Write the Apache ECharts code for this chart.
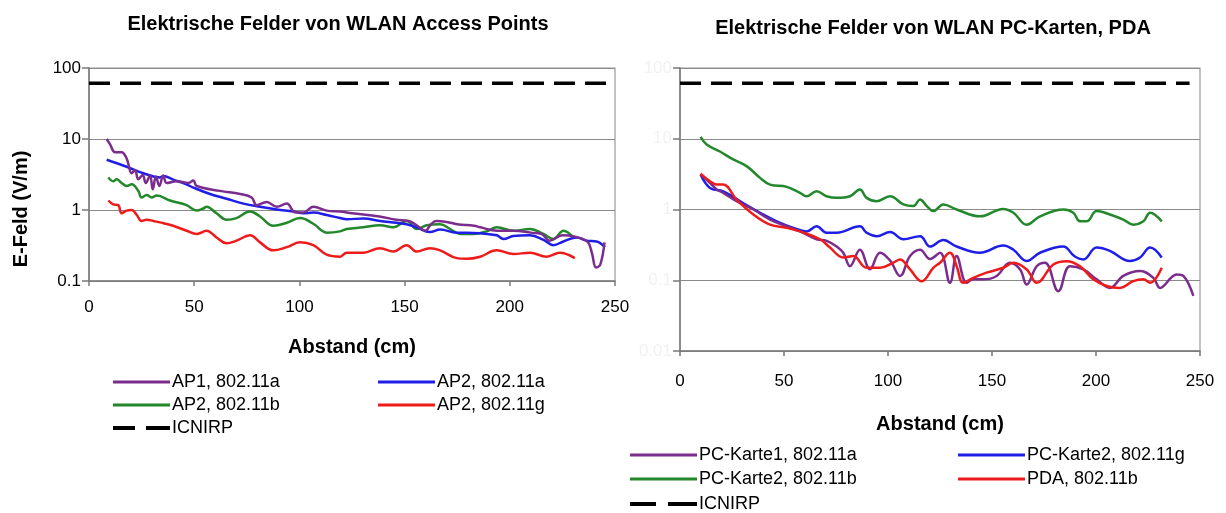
<!DOCTYPE html>
<html>
<head>
<meta charset="utf-8">
<script src="https://cdn.jsdelivr.net/npm/echarts@6/dist/echarts.min.js"></script>
<style>
html,body{margin:0;padding:0;background:#fff;}
#c{width:1226px;height:513px;}
</style>
</head>
<body>
<div id="c"></div>
<script>
// ---------- Data (E-Feld in V/m vs Abstand in cm) ----------
const xTicks = [0, 50, 100, 150, 200, 250];
const icnirpLimit = 61;

// Left chart: WLAN Access Points
const ap1aX = [8.4,10,12.4,15.5,17.9,20.3,21.9,23.4,25.5,27,29,30.3,31.8,33.4,35.3,36.9,41.7,47.2,49.6,51.2,62.3,71.8,77.3,79.7,84.5,89.2,94,97.9,101.9,106.6,113,119.3,125,138,146,152,156,160,162,165,170,175,183,186,194,202,210,215,219,225,231,237,239,241,243,245];
const ap1aY = [10,8.4,6.5,6.5,5.3,3.3,3.65,2.7,3.1,2.4,3.06,1.96,2.97,2.18,3.06,2.4,2.55,2.4,2.6,2.18,1.86,1.68,1.5,1.17,1.3,1.11,1.23,0.93,0.92,1.11,0.98,0.95,0.9,0.81,0.73,0.7,0.6,0.51,0.6,0.7,0.68,0.63,0.6,0.57,0.51,0.51,0.48,0.46,0.37,0.44,0.42,0.355,0.25,0.155,0.17,0.35];

const ap2aX = [8.4,17.9,25.8,33.7,35.3,40,46.3,49.6,57.5,65.4,73.4,81.3,89.2,97.1,101.9,106.6,113,119.3,122.5,130.4,138.3,146.2,151,155.8,162,166.9,174.8,179.5,185.9,193.8,197,201.7,209.6,216,220.7,225.5,231.8,236.5,241.3,245.2];
const ap2aY = [5.1,4.06,3.3,2.88,3.0,2.68,2.3,2.07,1.68,1.44,1.23,1.11,1.02,0.95,0.9,0.92,0.85,0.77,0.74,0.76,0.7,0.66,0.63,0.57,0.49,0.53,0.48,0.48,0.47,0.44,0.39,0.43,0.44,0.38,0.32,0.36,0.41,0.37,0.36,0.3];

const ap2bX = [9.2,11.5,13.1,15.5,17.9,20.3,23.4,25,27.4,29.8,32.2,38.5,46.4,51.2,54.3,55.9,60.6,65.4,70.1,76.5,81.3,87.6,94,100.3,106.6,113,119.3,122.5,130.4,138.3,144.6,151,155.8,160.5,166.9,171.6,176.4,182.7,189,193.8,201.7,209.6,216,220.7,225.5,230.2];
const ap2bY = [2.88,2.54,2.7,2.4,2.18,2.3,1.86,1.5,1.62,1.5,1.6,1.36,1.17,0.98,1.05,1.11,0.9,0.73,0.77,0.95,0.81,0.6,0.66,0.77,0.64,0.48,0.5,0.54,0.57,0.61,0.57,0.7,0.54,0.61,0.63,0.54,0.46,0.46,0.5,0.57,0.51,0.54,0.46,0.39,0.51,0.41];

const ap2gX = [9.2,11.5,13.9,15.5,17.9,20.3,22.6,25,27.4,30.6,33.7,40,46.4,51.2,55.9,60.6,65.4,70.1,76.5,81.3,87.6,94,100.3,106.6,113,119.3,122.5,130.4,138.3,144.6,151,155.8,162,166.9,174.8,179.5,185.9,193.8,201.7,209.6,217.5,223.8,230.9];
const ap2gY = [1.36,1.2,1.17,0.9,0.98,1.0,0.86,0.7,0.73,0.7,0.67,0.6,0.51,0.46,0.51,0.41,0.34,0.37,0.44,0.35,0.27,0.3,0.35,0.32,0.235,0.22,0.25,0.25,0.29,0.26,0.32,0.26,0.29,0.27,0.21,0.205,0.22,0.27,0.24,0.25,0.22,0.25,0.21];

// Right chart: WLAN PC-Karten, PDA
const pc1aX = [9.9,14.4,17.6,20.8,27.2,35.3,43.3,51.3,57.7,65.7,70.5,75.3,78.5,81.7,86.5,91.3,96.2,101,105.8,110.6,115.4,120.2,125,129.8,133,137.8,141,145.8,152.2,158.6,163.5,166.7,171.5,175.5,181.9,187.5,193.9,200.3,206.7,213.1,221.2,227.6,230.8,238.8,242,246.8];
const pc1aY = [3.12,2.38,1.92,1.72,1.31,1.0,0.72,0.58,0.49,0.38,0.36,0.3,0.245,0.158,0.27,0.143,0.245,0.19,0.115,0.22,0.27,0.2,0.245,0.092,0.22,0.092,0.103,0.103,0.115,0.177,0.142,0.087,0.158,0.177,0.07,0.158,0.142,0.103,0.078,0.115,0.135,0.108,0.078,0.121,0.115,0.06];

const pc2gX = [9.9,14.4,20.8,28.8,38.5,46.5,54.5,60.9,65.7,70.5,75.3,86.5,89.7,94.6,101,107.4,115.4,120.2,126.6,133,144.2,155.4,160.3,166.7,173.1,184.3,189.5,193.9,200.3,206.7,216.3,221.2,226,231.6];
const pc2gY = [3.12,2.02,1.81,1.31,0.9,0.68,0.55,0.49,0.58,0.47,0.47,0.58,0.47,0.42,0.48,0.38,0.42,0.3,0.37,0.3,0.245,0.31,0.27,0.187,0.245,0.3,0.22,0.197,0.29,0.26,0.187,0.21,0.29,0.21];

const pc2bX = [9.9,12.8,19.2,25.6,32,38.5,43.3,51.3,57.7,60.9,65.7,70.5,75.3,81.7,86.5,89.7,94.6,101,107.4,112.2,115.4,118.6,121.8,126.6,133,144.2,155.4,160.3,166.7,173.1,184.3,189.1,192.3,195.5,200.3,206.7,213.1,217.9,222.8,226,231.6];
const pc2bY = [10.6,8.3,6.6,5.1,4.1,2.8,2.25,2.09,1.72,1.54,1.81,1.54,1.46,1.54,1.92,1.46,1.31,1.54,1.18,1.12,1.38,1.12,0.95,1.18,1.0,0.8,1.02,0.9,0.61,0.8,1.0,0.9,0.68,0.68,0.95,0.85,0.72,0.61,0.68,0.9,0.68];

const pdaX = [9.9,14.4,17.6,20.8,27.2,35.3,43.3,51.3,57.7,67.3,72.1,78.5,83.3,89.7,96.2,102.6,105.8,110.6,116.2,121.8,125,129.8,133,136.2,141,147.4,155.4,160.3,166.7,171.5,179.5,185.9,192.3,198.7,205.1,211.5,217.9,222.8,226,231.6];
const pdaY = [3.22,2.51,2.25,2.25,1.38,0.85,0.61,0.55,0.49,0.38,0.29,0.21,0.22,0.15,0.15,0.177,0.197,0.142,0.097,0.15,0.177,0.245,0.158,0.092,0.108,0.128,0.15,0.177,0.142,0.092,0.167,0.186,0.158,0.103,0.083,0.078,0.097,0.103,0.092,0.15];

const icnirpLeftX = [0, 250];
const icnirpRightX = [0, 245];

// ---------- Build ----------
const zip = (xs, ys) => xs.map((x, i) => [x, ys[i]]);
const C = { purple: '#7b2d8e', blue: '#1e1ee8', green: '#23882b', red: '#ee1b1b' };
const FONT = 'Liberation Sans, Arial, sans-serif';
const DASH_ICON = 'path://M0,0H22V4H0Z M33,0H57V4H33Z';

function lineSeries(name, data, color, gi, w) {
  return {
    name, type: 'line', xAxisIndex: gi, yAxisIndex: gi, data,
    symbol: 'none', smooth: 0.4, animation: false,
    lineStyle: { color, width: w || 2.5 }, itemStyle: { color }
  };
}
function icnirp(gi, xs) {
  return {
    name: 'ICNIRP', type: 'line', xAxisIndex: gi, yAxisIndex: gi,
    data: xs.map(x => [x, icnirpLimit]), symbol: 'none', animation: false,
    lineStyle: { color: '#000', width: 3.5, type: [21, 10] }, itemStyle: { color: '#000' }
  };
}

function xAxisDef(gi, margin, nameGap) {
  return {
    gridIndex: gi, type: 'value', min: 0, max: 250, interval: 50,
    name: 'Abstand (cm)', nameLocation: 'middle', nameGap,
    nameTextStyle: { fontFamily: FONT, fontWeight: 'bold', fontSize: 20, color: '#000' },
    axisLine: { lineStyle: { color: '#7a7a7a', width: 1.5 } },
    axisTick: { show: true, length: 5, lineStyle: { color: '#7a7a7a', width: 1.5 } },
    axisLabel: { fontFamily: FONT, fontSize: 17, color: '#000', margin },
    splitLine: { show: false }
  };
}
function yAxisDef(gi, min, labelColor) {
  return {
    gridIndex: gi, type: 'log', logBase: 10, min, max: 100,
    axisLine: { show: true, lineStyle: { color: '#7a7a7a', width: 1.5 } },
    axisTick: { show: true, length: 7, lineStyle: { color: '#7a7a7a', width: 1.5 } },
    axisLabel: { fontFamily: FONT, fontSize: 17, color: labelColor, margin: 8 },
    splitLine: { show: true, lineStyle: { color: '#8a8a8a', width: 1.2 } },
    minorTick: { show: false }
  };
}
function legendDef(names, left, top, iw, ih, fs, icon, gap) {
  return {
    data: names.map(n => ({ name: n, icon })), orient: 'vertical', left, top,
    padding: 0, itemWidth: iw, itemHeight: ih, itemGap: gap == null ? 3 : gap, selectedMode: false,
    itemStyle: { borderWidth: 0 },
    textStyle: { fontFamily: FONT, fontSize: fs, color: '#000', lineHeight: 20, padding: [0, 0, 0, -3] }
  };
}

const option = {
  backgroundColor: '#fff',
  animation: false,
  title: [
    { text: 'Elektrische Felder von WLAN Access Points', left: 333, top: 9, textAlign: 'center',
      textStyle: { fontFamily: FONT, fontWeight: 'bold', fontSize: 20, color: '#000' } },
    { text: 'Elektrische Felder von WLAN PC-Karten, PDA', left: 928, top: 13, textAlign: 'center',
      textStyle: { fontFamily: FONT, fontWeight: 'bold', fontSize: 20, color: '#000' } }
  ],
  graphic: [
    { type: 'text', x: 21, y: 209, rotation: Math.PI / 2,
      style: { text: 'E-Feld (V/m)', fontFamily: FONT, fontWeight: 'bold', fontSize: 20, fill: '#000',
               align: 'center', verticalAlign: 'middle', textAlign: 'center', textVerticalAlign: 'middle' } }
  ],
  grid: [
    { left: 89, top: 68, width: 526, height: 213, show: true, borderColor: '#9a9a9a', borderWidth: 1.2 },
    { left: 680, top: 68, width: 520, height: 283, show: true, borderColor: '#9a9a9a', borderWidth: 1.2 }
  ],
  xAxis: [ xAxisDef(0, 18, 56), xAxisDef(1, 22, 63) ],
  yAxis: [ yAxisDef(0, 0.1, '#000'), yAxisDef(1, 0.01, '#f2f2f2') ],
  legend: [
    legendDef(['AP1, 802.11a', 'AP2, 802.11b'], 113, 372, 57, 3, 18, 'rect'),
    legendDef(['ICNIRP'], 113, 418, 57, 4, 18, DASH_ICON),
    legendDef(['AP2, 802.11a', 'AP2, 802.11g'], 378, 372, 57, 3, 18, 'rect'),
    legendDef(['PC-Karte1, 802.11a', 'PC-Karte2, 802.11b'], 630, 445, 67, 3, 18, 'rect', 4),
    legendDef(['ICNIRP'], 630, 494, 67, 4, 18, 'path://M0,0H26V4H0Z M38,0H67V4H38Z'),
    legendDef(['PC-Karte2, 802.11g', 'PDA, 802.11b'], 958, 445, 67, 3, 18, 'rect', 4)
  ],
  series: [
    icnirp(0, icnirpLeftX),
    lineSeries('AP2, 802.11g', zip(ap2gX, ap2gY), C.red, 0),
    lineSeries('AP2, 802.11b', zip(ap2bX, ap2bY), C.green, 0),
    lineSeries('AP2, 802.11a', zip(ap2aX, ap2aY), C.blue, 0),
    lineSeries('AP1, 802.11a', zip(ap1aX, ap1aY), C.purple, 0),
    icnirp(1, icnirpRightX),
    lineSeries('PC-Karte2, 802.11b', zip(pc2bX, pc2bY), C.green, 1),
    lineSeries('PC-Karte2, 802.11g', zip(pc2gX, pc2gY), C.blue, 1),
    lineSeries('PC-Karte1, 802.11a', zip(pc1aX, pc1aY), C.purple, 1),
    lineSeries('PDA, 802.11b', zip(pdaX, pdaY), C.red, 1)
  ]
};

const chart = echarts.init(document.getElementById('c'), null, { renderer: 'canvas' });
chart.setOption(option);
</script>
</body>
</html>
